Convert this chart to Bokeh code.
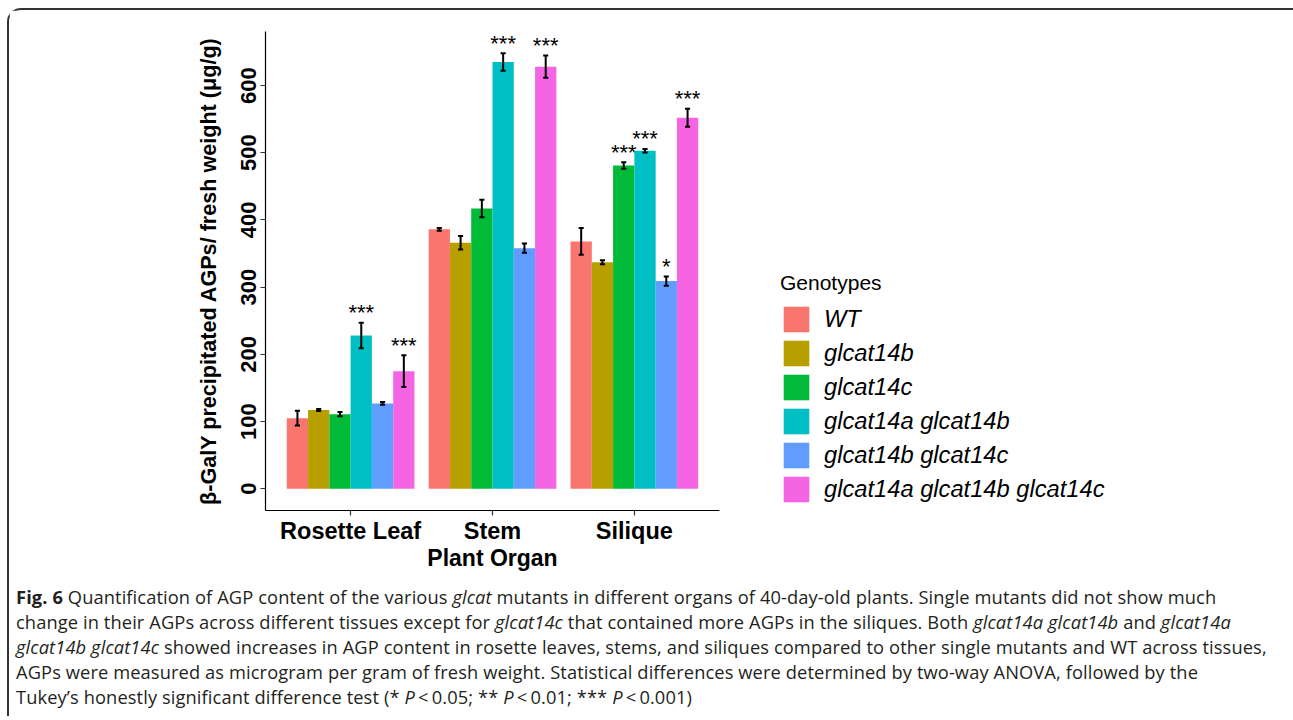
from bokeh.plotting import figure
from bokeh.models import ColumnDataSource, Range1d, FixedTicker, Legend, LegendItem, Div
from bokeh.layouts import column
from bokeh.embed import file_html
from bokeh.resources import INLINE
from bokeh.core.properties import value

# ---------------- data ----------------
organs = ["Rosette Leaf", "Stem", "Silique"]
genotypes = ["WT", "glcat14b", "glcat14c", "glcat14a glcat14b",
             "glcat14b glcat14c", "glcat14a glcat14b glcat14c"]
colors = ["#F8766D", "#B79F00", "#00BA38", "#00BFC4", "#619CFF", "#F564E3"]

# mean AGP content (ug/g) per organ: Rosette Leaf, Stem, Silique
mean_wt = [105, 386, 368]
mean_14b = [117, 366, 337]
mean_14c = [111, 417, 481]
mean_14a_14b = [228, 635, 503]
mean_14b_14c = [127, 358, 309]
mean_14a_14b_14c = [175, 628, 552]

# standard errors
se_wt = [11, 2, 20]
se_14b = [1.5, 10, 3]
se_14c = [3, 13, 5]
se_14a_14b = [19, 13, 2.5]
se_14b_14c = [2, 7, 7]
se_14a_14b_14c = [23.5, 16.5, 13.5]

# significance labels
sig_wt = ["", "", ""]
sig_14b = ["", "", ""]
sig_14c = ["", "", "***"]
sig_14a_14b = ["***", "***", "***"]
sig_14b_14c = ["", "", "*"]
sig_14a_14b_14c = ["***", "***", "***"]

y_ticks = [0, 100, 200, 300, 400, 500, 600]

means = [mean_wt, mean_14b, mean_14c, mean_14a_14b, mean_14b_14c, mean_14a_14b_14c]
ses = [se_wt, se_14b, se_14c, se_14a_14b, se_14b_14c, se_14a_14b_14c]
sigs = [sig_wt, sig_14b, sig_14c, sig_14a_14b, sig_14b_14c, sig_14a_14b_14c]

FONT = "Liberation Sans"

p = figure(frame_width=454, frame_height=479,
           min_border_left=256, min_border_right=566,
           min_border_top=21, min_border_bottom=66,
           x_range=Range1d(0.4, 3.6), y_range=Range1d(-32.4, 680.4),
           output_backend="svg", toolbar_location=None)
p.outline_line_color = None
p.xgrid.visible = False
p.ygrid.visible = False
p.background_fill_color = "white"
p.border_fill_color = "white"

n = len(genotypes)
bw = 0.9 / n
items = []
for j in range(n):
    xs = [i + 1 + (j - (n - 1) / 2) * bw for i in range(len(organs))]
    m = means[j]
    s = ses[j]
    lo = [a - b for a, b in zip(m, s)]
    hi = [a + b for a, b in zip(m, s)]
    src = ColumnDataSource(dict(x=xs, top=m, lo=lo, hi=hi,
                                cl=[x - 0.018 for x in xs], cr=[x + 0.018 for x in xs],
                                sig=sigs[j], sy=[h + 15 for h in hi]))
    r = p.vbar(x="x", top="top", bottom=0, width=bw, source=src,
               fill_color=colors[j], line_color=None)
    p.segment(x0="x", y0="lo", x1="x", y1="hi", source=src, line_color="black", line_width=2)
    p.segment(x0="cl", y0="hi", x1="cr", y1="hi", source=src, line_color="black", line_width=2)
    p.segment(x0="cl", y0="lo", x1="cr", y1="lo", source=src, line_color="black", line_width=2)
    p.text(x="x", y="sy", text="sig", source=src, text_align="center",
           text_baseline="alphabetic", text_font_size="22px",
           text_font=value(FONT), text_color="black")
    items.append(LegendItem(label=genotypes[j], renderers=[r]))

# axes
p.xaxis.ticker = FixedTicker(ticks=[1, 2, 3])
p.xaxis.major_label_overrides = {1: organs[0], 2: organs[1], 3: organs[2]}
p.yaxis.ticker = FixedTicker(ticks=y_ticks)
p.yaxis.major_label_orientation = "vertical"
for ax in (p.xaxis[0], p.yaxis[0]):
    ax.axis_line_color = "black"
    ax.axis_line_width = 1.2
    ax.major_tick_line_color = "#333333"
    ax.major_tick_line_width = 1.2
    ax.major_tick_in = 0
    ax.major_tick_out = 5
    ax.minor_tick_line_color = None
    ax.major_label_text_font = FONT
    ax.major_label_text_font_style = "bold"
    ax.major_label_text_color = "black"
    ax.axis_label_text_font = FONT
    ax.axis_label_text_font_style = "bold"
    ax.axis_label_text_color = "black"
p.xaxis.major_label_text_font_size = "23.5px"
p.yaxis.major_label_text_font_size = "22px"
p.xaxis.axis_label = "Plant Organ"
p.xaxis.axis_label_text_font_size = "23px"
p.xaxis.axis_label_standoff = -2
p.xaxis.major_label_standoff = 2
p.yaxis.axis_label = "\u03b2-GalY precipitated AGPs/ fresh weight (\u03bcg/g)"
p.yaxis.axis_label_text_font_size = "21.6px"
p.yaxis.axis_label_standoff = 18
p.yaxis.major_label_standoff = 4

legend = Legend(items=items, location=(61, 5), title="Genotypes",
                title_text_font=FONT, title_text_font_size="21px",
                title_text_font_style="normal", title_text_color="black",
                title_standoff=8,
                label_text_font=FONT, label_text_font_style="italic",
                label_text_font_size="23.7px", label_text_color="black",
                label_standoff=12,
                glyph_width=32, glyph_height=32, label_height=32,
                spacing=2, padding=0, margin=0,
                border_line_color=None, background_fill_alpha=0)
p.add_layout(legend, "right")

caption_html = (
    "<b>Fig. 6</b> Quantification of AGP content of the various <i>glcat</i> mutants in different organs of 40-day-old plants. Single mutants did not show much<br>"
    "change in their AGPs across different tissues except for <i>glcat14c</i> that contained more AGPs in the siliques. Both <i>glcat14a glcat14b</i> and <i>glcat14a</i><br>"
    "<i>glcat14b glcat14c</i> showed increases in AGP content in rosette leaves, stems, and siliques compared to other single mutants and WT across tissues,<br>"
    "AGPs were measured as microgram per gram of fresh weight. Statistical differences were determined by two-way ANOVA, followed by the<br>"
    "Tukey\u2019s honestly significant difference test (* <i>P</i>&thinsp;&lt;&thinsp;0.05; ** <i>P</i>&thinsp;&lt;&thinsp;0.01; *** <i>P</i>&thinsp;&lt;&thinsp;0.001)"
)
cap = Div(text=caption_html, width=1270, height=130,
          styles={"font-family": "'Open Sans'", "font-size": "18.3px",
                  "letter-spacing": "0.1px",
                  "line-height": "25px", "white-space": "nowrap",
                  "overflow": "hidden",
                  "color": "#231f20", "padding-left": "2px", "padding-top": "3px"})

layout = column(p, cap,
                styles={"border": "2px solid #333333", "border-bottom": "none",
                        "border-radius": "14px 14px 0 0",
                        "margin-top": "8px", "margin-left": "7px",
                        "background-color": "white"})

open("out.html", "w").write(file_html(layout, INLINE))
